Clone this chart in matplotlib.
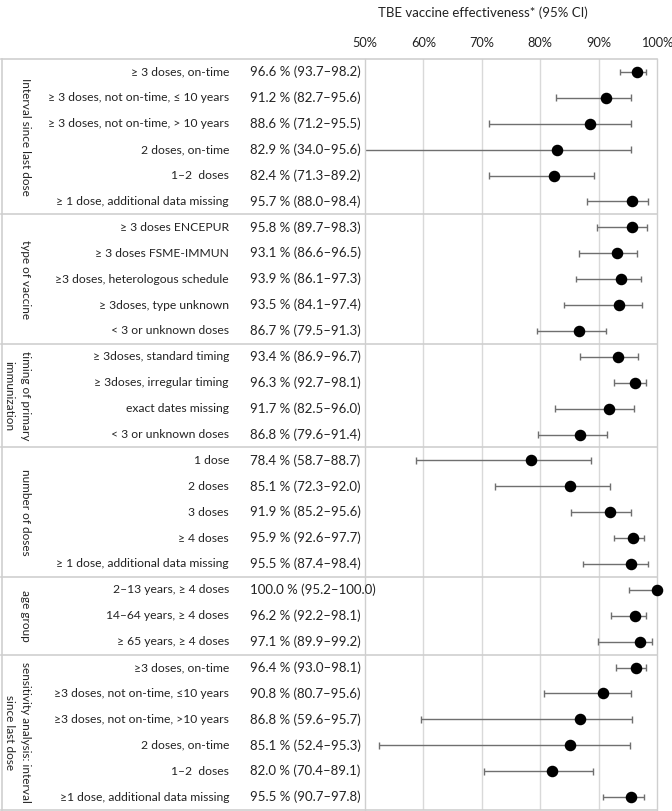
import matplotlib
matplotlib.use("Agg")
import matplotlib.pyplot as plt
import matplotlib.transforms as mtransforms
import numpy as np

plt.rcParams['font.family'] = ['Lato', 'DejaVu Sans']

groups = [
    "Interval since last dose",
    "type of vaccine",
    "timing of primary\nimmunization",
    "number of doses",
    "age group",
    "sensitivity analysis: interval\nsince last dose",
]
group_sizes = [6, 5, 4, 5, 3, 6]

labels = [
    "≥ 3 doses, on-time",
    "≥ 3 doses, not on-time, ≤ 10 years",
    "≥ 3 doses, not on-time, > 10 years",
    "2 doses, on-time",
    "1–2  doses",
    "≥ 1 dose, additional data missing",
    "≥ 3 doses ENCEPUR",
    "≥ 3 doses FSME-IMMUN",
    "≥3 doses, heterologous schedule",
    "≥ 3doses, type unknown",
    "< 3 or unknown doses",
    "≥ 3doses, standard timing",
    "≥ 3doses, irregular timing",
    "exact dates missing",
    "< 3 or unknown doses",
    "1 dose",
    "2 doses",
    "3 doses",
    "≥ 4 doses",
    "≥ 1 dose, additional data missing",
    "2–13 years, ≥ 4 doses",
    "14–64 years, ≥ 4 doses",
    "≥ 65 years, ≥ 4 doses",
    "≥3 doses, on-time",
    "≥3 doses, not on-time, ≤10 years",
    "≥3 doses, not on-time, >10 years",
    "2 doses, on-time",
    "1–2  doses",
    "≥1 dose, additional data missing",
]

ve = [96.6, 91.2, 88.6, 82.9, 82.4, 95.7,
      95.8, 93.1, 93.9, 93.5, 86.7,
      93.4, 96.3, 91.7, 86.8,
      78.4, 85.1, 91.9, 95.9, 95.5,
      100.0, 96.2, 97.1,
      96.4, 90.8, 86.8, 85.1, 82.0, 95.5]
ci_low = [93.7, 82.7, 71.2, 34.0, 71.3, 88.0,
          89.7, 86.6, 86.1, 84.1, 79.5,
          86.9, 92.7, 82.5, 79.6,
          58.7, 72.3, 85.2, 92.6, 87.4,
          95.2, 92.2, 89.9,
          93.0, 80.7, 59.6, 52.4, 70.4, 90.7]
ci_high = [98.2, 95.6, 95.5, 95.6, 89.2, 98.4,
           98.3, 96.5, 97.3, 97.4, 91.3,
           96.7, 98.1, 96.0, 91.4,
           88.7, 92.0, 95.6, 97.7, 98.4,
           100.0, 98.1, 99.2,
           98.1, 95.6, 95.7, 95.3, 89.1, 97.8]

xticks = [50, 60, 70, 80, 90, 100]
xtick_labels = ["50%", "60%", "70%", "80%", "90%", "100%"]
title = "TBE vaccine effectiveness* (95% CI)"

W, H = 672, 811
fig = plt.figure(figsize=(W / 100, H / 100), dpi=100)
x_left, x_right = 365, 657
y_top, y_bot = 59, 810
ax = fig.add_axes([x_left / W, 1 - y_bot / H, (x_right - x_left) / W, (y_bot - y_top) / H])

n = len(labels)
ys = np.arange(n)
ax.set_xlim(50, 100)
ax.set_ylim(n - 0.5, -0.5)

grid_c = "#d9d9d9"
for s in ax.spines.values():
    s.set_visible(False)
for xt in xticks[1:-1]:
    ax.axvline(xt, color=grid_c, lw=1, zorder=0)

ve_a = np.array(ve)
lo = np.array(ci_low)
hi = np.array(ci_high)
lo_c = np.maximum(lo, 50)
err_c = "#6f6f6f"
ax.hlines(ys, lo_c, hi, color=err_c, lw=1, zorder=2)
cap = 0.13
for y, l, h in zip(ys, lo, hi):
    if l >= 50:
        ax.vlines(l, y - cap, y + cap, color=err_c, lw=1, zorder=2)
    ax.vlines(h, y - cap, y + cap, color=err_c, lw=1, zorder=2, clip_on=False)
ax.plot(ve_a, ys, 'o', color='black', ms=7.3, zorder=3, clip_on=False)

ax.set_xticks(xticks)
ax.set_xticklabels(xtick_labels, fontsize=9.2, color="#222222")
ax.xaxis.tick_top()
ax.tick_params(axis='x', length=0, pad=7.5)
ax.set_yticks([])

fig.text(483 / W, 1 - 13 / H, title, ha='center', va='center',
         fontsize=9.5, color="#222222")

trans = mtransforms.blended_transform_factory(fig.transFigure, ax.transData)
for y, lab, v, l, h in zip(ys, labels, ve, ci_low, ci_high):
    fig.text(229 / W, y, lab, transform=trans, ha='right', va='center',
             fontsize=8.7, color="#222222")
    fig.text(250 / W, y, f"{v:.1f} % ({l:.1f}–{h:.1f})", transform=trans,
             ha='left', va='center', fontsize=9.5, color="#222222")

# borders / separators
line_c = "#cfcfcf"
bounds = [-0.5]
start = 0
centers = []
for gs in group_sizes:
    centers.append(start + (gs - 1) / 2)
    start += gs
    bounds.append(start - 0.5)
for b in bounds:
    ax.plot([1 / W, x_right / W], [b, b], transform=trans, color=line_c, lw=1.2,
            clip_on=False, zorder=1)
ax.plot([1.5 / W, 1.5 / W], [-0.5, n - 0.5], transform=trans, color=line_c, lw=1.2,
        clip_on=False)
ax.plot([x_left / W, x_left / W], [-0.5, n - 0.5], transform=trans, color=line_c, lw=1,
        clip_on=False)
ax.plot([x_right / W, x_right / W], [-0.5, n - 0.5], transform=trans, color=line_c, lw=1,
        clip_on=False)

for g, c in zip(groups, centers):
    for k, line in enumerate(g.split("\n")):
        fig.text((25 - 16 * k) / W, c, line, transform=trans, rotation=270,
                 ha='center', va='center', fontsize=8.5, color="#222222")

fig.savefig("out.png", dpi=100)
